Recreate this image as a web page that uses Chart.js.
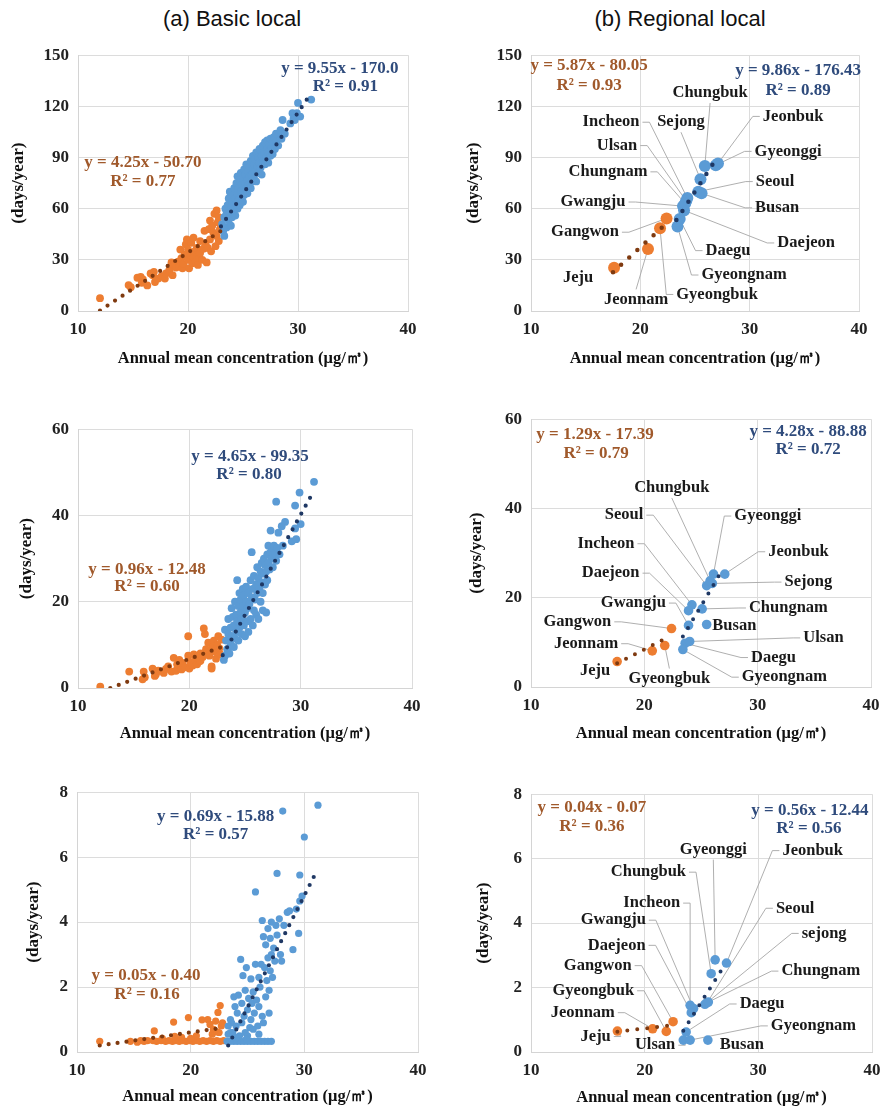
<!DOCTYPE html>
<html>
<head>
<meta charset="utf-8">
<script src="https://cdn.jsdelivr.net/npm/chart.js@4.4.0/dist/chart.umd.min.js"></script>
<style>
body { margin: 0; background: #fff; width: 891px; height: 1116px; position: relative; overflow: hidden; }
canvas { position: absolute; }
.head { position: absolute; top: 6px; line-height: 26px; font: 22px "Liberation Sans", Arial, sans-serif; color: #111; transform: translateX(-50%); white-space: nowrap; }
</style>
</head>
<body>
<div class="head" style="left:232px">(a) Basic local</div>
<div class="head" style="left:680px">(b) Regional local</div>
<canvas id="c1"></canvas>
<canvas id="c2"></canvas>
<canvas id="c3"></canvas>
<canvas id="c4"></canvas>
<canvas id="c5"></canvas>
<canvas id="c6"></canvas>
<script>
// ================================
// DATA
// ================================
const X_TITLE = 'Annual mean concentration (μg/㎥)';
const Y_TITLE = '(days/year)';

// (a) basic local, top row
const p1Orange = [[12.0,7.5],[14.6,15.2],[14.8,14.0],[15.4,19.5],[15.7,20.0],[15.8,16.5],[15.9,18.5],[16.3,15.0],[16.6,22.0],[16.8,21.0],[16.9,23.0],[17.0,17.0],[17.3,19.0],[17.6,20.5],[17.9,19.0],[18.0,22.0],[18.3,24.0],[18.5,28.5],[18.6,21.0],[18.7,27.0],[18.9,25.5],[19.1,29.0],[19.2,26.0],[19.3,36.0],[19.4,31.0],[19.5,25.0],[19.6,27.5],[19.7,33.0],[19.8,39.0],[19.9,42.0],[20.0,36.0],[20.0,30.0],[20.1,25.0],[20.2,33.0],[20.3,40.0],[20.4,28.0],[20.5,31.5],[20.5,43.0],[20.6,35.0],[20.7,29.0],[20.8,37.0],[20.9,27.0],[21.0,32.0],[21.1,34.0],[21.1,41.0],[21.3,30.0],[21.4,36.5],[21.5,47.0],[21.6,39.0],[21.7,28.5],[21.8,37.0],[21.9,48.0],[22.0,42.0],[22.0,53.0],[22.1,35.0],[22.2,50.0],[22.3,46.0],[22.4,57.0],[22.5,38.0],[22.6,59.0],[22.6,44.0],[22.7,52.0],[22.8,55.0],[22.8,41.0],[22.9,48.0]];
const p1Blue = [[23.1,51],[23.2,47],[23.3,44],[23.3,55],[23.4,60],[23.5,49],[23.5,57],[23.6,62],[23.7,53],[23.7,66],[23.8,58],[23.8,70],[23.9,61],[23.9,50],[24.0,64],[24.0,55],[24.1,68],[24.1,59],[24.2,72],[24.2,62],[24.3,66],[24.3,56],[24.4,75],[24.4,63],[24.5,69],[24.5,60],[24.5,79],[24.6,65],[24.6,72],[24.7,77],[24.7,62],[24.8,70],[24.8,81],[24.9,67],[24.9,74],[25.0,64],[25.0,78],[25.0,71],[25.1,83],[25.1,68],[25.2,75],[25.2,80],[25.3,72],[25.3,86],[25.4,77],[25.4,69],[25.5,82],[25.5,74],[25.6,79],[25.6,85],[25.7,72],[25.7,88],[25.8,80],[25.8,76],[25.9,84],[25.9,91],[26.0,78],[26.0,86],[26.1,82],[26.1,89],[26.2,93],[26.2,76],[26.3,85],[26.4,90],[26.4,81],[26.5,87],[26.5,95],[26.6,84],[26.7,91],[26.7,80],[26.8,97],[26.8,88],[26.9,93],[27.0,86],[27.0,99],[27.1,90],[27.2,95],[27.2,100],[27.3,87],[27.3,93],[27.4,98],[27.5,91],[27.5,101],[27.6,96],[27.7,99],[27.7,92],[27.8,102],[27.9,95],[28.0,99],[28.0,104],[28.2,97],[28.3,103],[28.4,106],[28.5,101],[28.6,112],[28.8,104],[29.3,110],[29.5,116],[29.6,113],[29.7,112],[29.9,116],[30.0,122],[30.2,114],[31.2,124]];
const p1OrangeTrend = [[12.0,0.3],[23.0,47.0]];
const p1BlueTrend = [[23.0,49.6],[30.8,124.0]];

// (a) basic local, middle row
const p3Orange = [[12.0,0.3],[14.6,3.8],[15.8,2.0],[15.9,3.8],[16.0,2.5],[16.7,4.5],[16.9,2.8],[17.0,3.2],[17.2,4.0],[17.7,3.5],[17.9,4.4],[18.1,5.0],[18.4,3.8],[18.6,7.0],[18.8,4.0],[18.9,5.5],[19.1,6.5],[19.3,4.3],[19.4,5.8],[19.6,4.8],[19.9,12.0],[19.9,7.5],[20.0,4.5],[20.1,5.9],[20.3,5.2],[20.4,7.8],[20.5,6.5],[20.7,5.5],[20.8,7.0],[20.9,6.2],[21.0,8.0],[21.0,6.3],[21.2,7.2],[21.3,13.8],[21.4,12.5],[21.5,9.0],[21.6,8.2],[21.7,10.5],[21.8,7.5],[22.0,5.0],[22.0,4.5],[22.1,9.5],[22.2,11.0],[22.3,8.5],[22.4,6.8],[22.5,10.0],[22.6,12.0],[22.7,9.2],[22.8,7.8],[22.9,11.2]];
const p3Blue = [[23.1,6.5],[23.2,7.5],[23.2,13.5],[23.3,11],[23.4,9],[23.5,16],[23.5,12.5],[23.6,8],[23.7,14],[23.7,10.5],[23.8,18.5],[23.8,12],[23.9,16.5],[24.0,9.5],[24.0,14.5],[24.1,20],[24.1,11.5],[24.2,17],[24.2,13],[24.3,25],[24.3,15.5],[24.4,19],[24.4,11],[24.5,22],[24.5,14],[24.6,17.5],[24.6,20.5],[24.7,12.5],[24.7,16],[24.8,23],[24.8,19],[24.9,14.5],[24.9,21.5],[25.0,17.5],[25.0,12],[25.1,20],[25.1,23.5],[25.2,15.5],[25.2,18.5],[25.3,22],[25.3,13],[25.4,19.5],[25.5,25],[25.5,16],[25.6,21],[25.6,31.5],[25.7,14.5],[25.7,23],[25.8,18],[25.8,26],[25.9,20.5],[26.0,24],[26.0,17],[26.1,22],[26.1,28],[26.2,25.5],[26.2,16],[26.3,23],[26.4,27],[26.4,20],[26.5,29],[26.5,24.5],[26.6,22],[26.6,18],[26.7,26.5],[26.7,30],[26.8,24],[26.8,28.5],[26.9,17.5],[26.9,27],[27.0,31],[27.0,25],[27.1,29],[27.1,33],[27.2,27.5],[27.3,31.5],[27.3,36.5],[27.4,30],[27.5,32.5],[27.5,28],[27.6,33],[27.7,31],[27.8,29.5],[27.8,43.2],[27.9,32.5],[28.0,36],[28.1,31],[28.3,37.5],[28.4,33],[28.6,38.5],[29.2,34],[29.5,42.3],[29.5,37],[29.6,34.5],[29.9,45.3],[30.0,38],[31.2,47.8]];
const p3OrangeTrend = [[12.9,0.0],[23.0,9.6]];
const p3BlueTrend = [[23.0,7.6],[31.1,45.3]];

// (a) basic local, bottom row
const p5Orange = [[12.0,0.33],[14.7,0.33],[15.3,0.3],[15.6,0.35],[15.9,0.33],[16.2,0.35],[16.7,0.35],[17.0,0.33],[17.4,0.35],[17.8,0.33],[18.1,0.35],[18.4,0.33],[18.7,0.35],[19.0,0.33],[19.3,0.35],[19.6,0.33],[19.9,0.35],[20.2,0.33],[20.5,0.35],[20.8,0.33],[21.1,0.35],[21.4,0.33],[21.7,0.35],[22.0,0.33],[22.3,0.35],[22.6,0.33],[22.9,0.35],[16.8,0.65],[18.5,0.92],[18.6,0.48],[19.8,1.06],[19.2,0.45],[20.5,0.5],[21.0,0.99],[21.5,1.0],[21.7,0.85],[21.9,0.55],[22.0,0.7],[22.2,0.95],[22.3,0.62],[22.4,1.22],[22.5,0.6],[22.6,1.43],[22.7,0.8],[22.8,0.9],[17.5,0.42],[20.0,0.42]];
const p5Blue = [[23.2,0.33],[23.5,0.33],[23.8,0.33],[24.1,0.33],[24.4,0.33],[24.7,0.33],[25.0,0.33],[25.3,0.33],[25.6,0.33],[25.9,0.33],[26.2,0.33],[26.5,0.33],[26.8,0.33],[27.1,0.33],[23.3,0.55],[23.3,0.8],[23.5,0.6],[23.6,0.9],[23.5,1.0],[23.7,0.6],[23.9,1.4],[24.0,0.8],[24.1,1.2],[24.2,1.75],[24.3,0.5],[24.4,2.85],[24.5,1.5],[24.5,0.9],[24.6,2.35],[24.7,1.1],[24.8,1.9],[24.8,0.6],[24.9,2.6],[25.0,1.3],[25.1,1.65],[25.2,0.75],[25.3,2.25],[25.3,1.0],[25.4,1.5],[25.5,1.85],[25.6,1.2],[25.7,4.93],[25.7,2.7],[25.8,1.6],[25.9,0.8],[26.0,2.3],[26.0,1.4],[26.1,2.0],[26.2,2.7],[26.3,4.05],[26.3,1.1],[26.4,3.55],[26.5,2.6],[26.6,1.7],[26.6,3.3],[26.7,2.2],[26.8,3.8],[26.8,2.9],[26.9,1.9],[27.0,3.5],[27.0,2.5],[27.1,3.0],[27.1,4.0],[27.2,2.3],[27.3,3.2],[27.4,2.8],[27.5,3.9],[27.6,5.5],[27.6,3.6],[27.8,4.1],[27.9,3.0],[28.0,2.8],[28.1,7.42],[28.2,3.9],[28.5,4.3],[28.7,4.35],[29.0,3.15],[29.3,4.4],[29.5,3.65],[29.6,4.65],[29.6,5.45],[29.8,4.8],[30.0,6.62],[31.2,7.6],[25.0,0.5],[24.0,0.45],[26.0,0.55],[23.8,1.7],[24.9,0.4],[25.5,0.7],[26.4,0.9],[26.9,1.2]];
const p5OrangeTrend = [[12.0,0.2],[22.7,0.74]];
const p5BlueTrend = [[23.3,0.2],[30.9,5.44]];

// (b) regional local
const REGIONS = ['Seoul','Busan','Daegu','Incheon','Gwangju','Daejeon','Ulsan','Sejong','Gyeonggi','Gangwon','Chungbuk','Chungnam','Jeonbuk','Jeonnam','Gyeongbuk','Gyeongnam','Jeju'];
const ORANGE_REGIONS = ['Gangwon','Jeonnam','Gyeongbuk','Jeju'];

const p2X = [25.3,25.6,23.6,24.3,23.9,24.0,24.2,25.5,26.9,22.4,25.9,24.1,27.1,20.7,21.8,23.4,17.6];
const p2Y = [70.0,69.0,54.0,66.2,61.5,59.0,64.5,77.3,85.5,54.3,85.0,63.0,86.5,36.4,48.5,49.5,25.3];
const p2OrangeTrend = [[17.5,22.7],[22.0,49.1]];
const p2BlueTrend = [[23.3,53.3],[27.1,90.8]];

const p4X = [25.5,25.5,23.6,24.2,23.9,23.9,24.0,26.0,26.1,22.4,25.8,25.1,27.1,20.7,21.8,23.4,17.6];
const p4Y = [22.7,14.0,9.8,18.4,13.8,17.1,10.2,23.2,25.3,13.1,23.8,17.5,25.3,8.1,9.3,8.4,5.7];
const p4OrangeTrend = [[17.6,5.3],[21.9,10.9]];
const p4BlueTrend = [[23.4,11.3],[27.0,26.7]];

const p6X = [25.5,25.56,23.65,24.0,24.3,24.1,23.4,25.3,26.2,22.5,25.85,25.6,27.2,20.7,21.9,24.0,17.6];
const p6Y = [1.53,0.37,0.62,1.45,1.35,1.22,0.37,1.48,2.86,0.94,2.43,1.55,2.76,0.72,0.64,0.37,0.65];
const p6OrangeTrend = [[17.6,0.63],[22.4,0.83]];
const p6BlueTrend = [[23.4,0.66],[26.8,2.57]];

// ================================
// STYLE
// ================================
const BLUE = '#5B9BD5';
const ORANGE = '#ED7D31';
const NAVY = '#1F3864';
const BROWN = '#7F3A10';
const EQ_BLUE = '#2F4B7C';
const EQ_ORANGE = '#A0592B';
const SERIF = '"Liberation Serif", "Times New Roman", serif';
const EQ_FONT = 'bold 17px ' + SERIF;
const LABEL_FONT = 'bold 16.5px ' + SERIF;

// canvas boxes, page pixels
const BOXES = {
    c1: { left: 4,   top: 36,  w: 424, h: 337, yW: 74, xH: 62, padT: 12, padR: 20 },
    c2: { left: 459, top: 36,  w: 420, h: 337, yW: 72, xH: 62, padT: 12, padR: 20 },
    c3: { left: 12,  top: 410, w: 420, h: 338, yW: 66, xH: 60, padT: 12, padR: 20 },
    c4: { left: 462, top: 400, w: 427, h: 348, yW: 69, xH: 61, padT: 12, padR: 18 },
    c5: { left: 19,  top: 773, w: 419, h: 338, yW: 58, xH: 59, padT: 12, padR: 20 },
    c6: { left: 469, top: 775, w: 421, h: 337, yW: 62, xH: 60, padT: 12, padR: 18 }
};

// annotation placement, in data units
const ANNO = {
    c1: { texts: [
        ['y = 9.55x - 170.0', 33.8, 142, EQ_BLUE], ['R² = 0.91', 34.3, 131.8, EQ_BLUE],
        ['y = 4.25x - 50.70', 15.9, 87.3, EQ_ORANGE], ['R² = 0.77', 15.9, 75.9, EQ_ORANGE]] },
    c3: { texts: [
        ['y = 4.65x - 99.35', 25.45, 53.7, EQ_BLUE], ['R² = 0.80', 25.36, 49.4, EQ_BLUE],
        ['y = 0.96x - 12.48', 16.2, 27.5, EQ_ORANGE], ['R² = 0.60', 16.2, 23.5, EQ_ORANGE]] },
    c5: { texts: [
        ['y = 0.69x - 15.88', 22.2, 7.25, EQ_BLUE], ['R² = 0.57', 22.2, 6.7, EQ_BLUE],
        ['y = 0.05x - 0.40', 16.07, 2.34, EQ_ORANGE], ['R² = 0.16', 16.16, 1.77, EQ_ORANGE]] },
    c2: { xs: p2X, ys: p2Y, texts: [
        ['y = 5.87x - 80.05', 15.31, 143.8, EQ_ORANGE], ['R² = 0.93', 15.31, 132.3, EQ_ORANGE],
        ['y = 9.86x - 176.43', 34.43, 140.9, EQ_BLUE], ['R² = 0.89', 34.43, 129.5, EQ_BLUE]],
      labels: [
        ['Chungbuk', 'Chungbuk', 26.38, 127.8, 'b'], ['Incheon', 'Incheon', 17.32, 110.7, 'r'],
        ['Sejong', 'Sejong', 23.72, 110.7, 'b'], ['Jeonbuk', 'Jeonbuk', 33.97, 114.1, 'l'],
        ['Ulsan', 'Ulsan', 17.87, 97.0, 'r'], ['Gyeonggi', 'Gyeonggi', 33.51, 93.6, 'l'],
        ['Chungnam', 'Chungnam', 17.04, 81.6, 'r'], ['Seoul', 'Seoul', 32.32, 75.9, 'l'],
        ['Gwangju', 'Gwangju', 15.67, 63.9, 'r'], ['Busan', 'Busan', 32.51, 60.5, 'l'],
        ['Gangwon', 'Gangwon', 14.94, 46.2, 'r'], ['Daejeon', 'Daejeon', 35.16, 39.9, 'l'],
        ['Daegu', 'Daegu', 28.02, 35.4, 'l'], ['Jeju', 'Jeju', 14.30, 19.4, 'n'],
        ['Gyeongnam', 'Gyeongnam', 29.49, 21.1, 'l'], ['Jeonnam', 'Jeonnam', 19.61, 6.8, 't'],
        ['Gyeongbuk', 'Gyeongbuk', 27.02, 9.7, 'l']] },
    c4: { xs: p4X, ys: p4Y, texts: [
        ['y = 1.29x - 17.39', 15.65, 56.5, EQ_ORANGE], ['R² = 0.79', 15.74, 52.4, EQ_ORANGE],
        ['y = 4.28x - 88.88', 34.45, 57.2, EQ_BLUE], ['R² = 0.72', 34.45, 53.2, EQ_BLUE]],
      labels: [
        ['Chungbuk', 'Chungbuk', 22.42, 44.6, 'b'], ['Seoul', 'Seoul', 18.21, 38.5, 'r'],
        ['Gyeonggi', 'Gyeonggi', 30.89, 38.3, 'l'], ['Incheon', 'Incheon', 16.62, 32.1, 'r'],
        ['Jeonbuk', 'Jeonbuk', 33.6, 30.3, 'l'], ['Daejeon', 'Daejeon', 17.03, 25.5, 'r'],
        ['Sejong', 'Sejong', 34.47, 23.5, 'l'], ['Gwangju', 'Gwangju', 19.03, 18.8, 'r'],
        ['Chungnam', 'Chungnam', 32.71, 17.7, 'l'], ['Gangwon', 'Gangwon', 14.09, 14.6, 'r'],
        ['Busan', 'Busan', 27.94, 13.7, 'n'], ['Jeonnam', 'Jeonnam', 14.86, 9.7, 'r'],
        ['Ulsan', 'Ulsan', 35.8, 11.0, 'l'], ['Daegu', 'Daegu', 31.39, 6.6, 'l'],
        ['Jeju', 'Jeju', 15.65, 3.7, 'n'], ['Gyeongbuk', 'Gyeongbuk', 22.21, 1.9, 't'],
        ['Gyeongnam', 'Gyeongnam', 32.36, 2.2, 'l']] },
    c6: { xs: p6X, ys: p6Y, texts: [
        ['y = 0.04x - 0.07', 15.36, 7.58, EQ_ORANGE], ['R² = 0.36', 15.36, 7.0, EQ_ORANGE],
        ['y = 0.56x - 12.44', 34.54, 7.49, EQ_BLUE], ['R² = 0.56', 34.45, 6.92, EQ_BLUE]],
      labels: [
        ['Gyeonggi', 'Gyeonggi', 26.04, 6.28, 'b'], ['Jeonbuk', 'Jeonbuk', 34.78, 6.25, 'l'],
        ['Chungbuk', 'Chungbuk', 20.33, 5.58, 'r'], ['Incheon', 'Incheon', 20.62, 4.62, 'r'],
        ['Seoul', 'Seoul', 33.24, 4.46, 'l'], ['Gwangju', 'Gwangju', 17.24, 4.09, 'r'],
        ['Sejong', 'sejong', 35.79, 3.68, 'l'], ['Daejeon', 'Daejeon', 17.54, 3.31, 'r'],
        ['Gangwon', 'Gangwon', 15.87, 2.68, 'r'], ['Chungnam', 'Chungnam', 35.5, 2.51, 'l'],
        ['Gyeongbuk', 'Gyeongbuk', 15.48, 1.90, 'r'], ['Daegu', 'Daegu', 30.33, 1.49, 'l'],
        ['Jeonnam', 'Jeonnam', 14.55, 1.22, 'r'], ['Gyeongnam', 'Gyeongnam', 34.85, 0.81, 'l'],
        ['Jeju', 'Jeju', 15.69, 0.48, 'r'], ['Ulsan', 'Ulsan', 20.92, 0.21, 'r'],
        ['Busan', 'Busan', 28.55, 0.21, 'n']] }
};

// ================================
// PLUGIN: equations, region labels, leader lines
// ================================
const annoPlugin = {
    id: 'anno',
    beforeDatasetsDraw(chart) {
        const a = ANNO[chart.canvas.id];
        if (!a || !a.labels) return;
        const { ctx, scales: { x, y } } = chart;
        ctx.save();
        ctx.font = LABEL_FONT;
        ctx.strokeStyle = '#a6a6a6';
        ctx.lineWidth = 0.9;
        a.labels.forEach(([key, text, lx, ly, side]) => {
            if (side === 'n') return;
            const i = REGIONS.indexOf(key);
            const tx = x.getPixelForValue(a.xs[i]);
            const ty = y.getPixelForValue(a.ys[i]);
            const cx = x.getPixelForValue(lx);
            const cy = y.getPixelForValue(ly);
            const w = ctx.measureText(text).width;
            let sx = cx, sy = cy, kx = cx, ky = cy;
            if (side === 'r') { sx = cx + w / 2 + 3; kx = sx + 7; }
            else if (side === 'l') { sx = cx - w / 2 - 3; kx = sx - 7; }
            else if (side === 'b') { sy = ky = cy + 10; }
            else { sy = ky = cy - 10; }
            ctx.beginPath();
            ctx.moveTo(sx, sy);
            ctx.lineTo(kx, ky);
            ctx.lineTo(tx, ty);
            ctx.stroke();
        });
        ctx.restore();
    },
    afterDatasetsDraw(chart) {
        const a = ANNO[chart.canvas.id];
        if (!a) return;
        const { ctx, scales: { x, y } } = chart;
        ctx.save();
        ctx.textAlign = 'center';
        ctx.textBaseline = 'middle';
        ctx.font = EQ_FONT;
        a.texts.forEach(([text, tx, ty, color]) => {
            ctx.fillStyle = color;
            ctx.fillText(text, x.getPixelForValue(tx), y.getPixelForValue(ty));
        });
        if (a.labels) {
            ctx.font = LABEL_FONT;
            ctx.fillStyle = '#1a1a1a';
            a.labels.forEach(([key, text, lx, ly]) => {
                ctx.fillText(text, x.getPixelForValue(lx), y.getPixelForValue(ly));
            });
        }
        ctx.restore();
    }
};

// ================================
// HELPERS
// ================================
const toXY = arr => arr.map(([x, y]) => ({ x, y }));

function pointSet(pairs, color, r) {
    return { data: toXY(pairs), backgroundColor: color, borderWidth: 0, pointRadius: r, order: 2 };
}

function trendSet(pairs, color, w, gap) {
    return {
        data: toXY(pairs), showLine: true, pointRadius: 0, borderColor: color,
        borderWidth: w, borderDash: [0, gap], borderCapStyle: 'round', fill: false, order: 0
    };
}

function regionSets(xs, ys, r) {
    const blue = [], orange = [];
    REGIONS.forEach((name, i) => {
        (ORANGE_REGIONS.includes(name) ? orange : blue).push([xs[i], ys[i]]);
    });
    return [pointSet(blue, BLUE, r), pointSet(orange, ORANGE, r)];
}

function makePanel(id, yMax, yStep, datasets) {
    const box = BOXES[id];
    const cv = document.getElementById(id);
    cv.width = box.w;
    cv.height = box.h;
    cv.style.left = box.left + 'px';
    cv.style.top = box.top + 'px';

    const tickFont = { family: SERIF, size: 17, weight: 'bold' };
    const titleFont = { family: SERIF, size: 16.5, weight: 'bold' };

    return new Chart(cv, {
        type: 'scatter',
        data: { datasets },
        options: {
            responsive: false,
            animation: false,
            events: [],
            layout: { padding: { top: box.padT, right: box.padR, left: 0, bottom: 0 } },
            plugins: { legend: { display: false }, tooltip: { enabled: false } },
            scales: {
                x: {
                    type: 'linear', min: 10, max: 40,
                    ticks: { stepSize: 10, padding: 8, color: '#222', font: tickFont },
                    grid: { color: '#dcdcdc', drawTicks: false },
                    border: { color: '#d4d4d4' },
                    title: { display: true, text: X_TITLE, color: '#111', font: titleFont, padding: { top: 0, bottom: 4 } },
                    afterFit: s => { s.height = box.xH; }
                },
                y: {
                    type: 'linear', min: 0, max: yMax,
                    ticks: { stepSize: yStep, padding: 9, color: '#222', font: tickFont },
                    grid: { color: '#dcdcdc', drawTicks: false },
                    border: { color: '#d4d4d4' },
                    title: { display: true, text: Y_TITLE, color: '#111', font: { family: SERIF, size: 17, weight: 'bold' }, padding: { top: 4, bottom: 0 } },
                    afterFit: s => { s.width = box.yW; }
                }
            }
        },
        plugins: [annoPlugin]
    });
}

// ================================
// INIT
// ================================
makePanel('c1', 150, 30, [
    trendSet(p1BlueTrend, NAVY, 4.2, 9), trendSet(p1OrangeTrend, BROWN, 4.2, 9),
    pointSet(p1Blue, BLUE, 3.9), pointSet(p1Orange, ORANGE, 3.9)
]);
makePanel('c3', 60, 20, [
    trendSet(p3BlueTrend, NAVY, 4.2, 9), trendSet(p3OrangeTrend, BROWN, 4.2, 9),
    pointSet(p3Blue, BLUE, 3.9), pointSet(p3Orange, ORANGE, 3.9)
]);
makePanel('c5', 8, 2, [
    trendSet(p5BlueTrend, NAVY, 4.2, 9), trendSet(p5OrangeTrend, BROWN, 4.2, 9),
    pointSet(p5Blue, BLUE, 3.6), pointSet(p5Orange, ORANGE, 3.6)
]);
makePanel('c2', 150, 30, [
    trendSet(p2BlueTrend, NAVY, 4.5, 11), trendSet(p2OrangeTrend, BROWN, 4.5, 11),
    ...regionSets(p2X, p2Y, 6)
]);
makePanel('c4', 60, 20, [
    trendSet(p4BlueTrend, NAVY, 4, 10), trendSet(p4OrangeTrend, BROWN, 4, 10),
    ...regionSets(p4X, p4Y, 4.8)
]);
makePanel('c6', 8, 2, [
    trendSet(p6BlueTrend, NAVY, 4, 10), trendSet(p6OrangeTrend, BROWN, 4, 10),
    ...regionSets(p6X, p6Y, 4.8)
]);
</script>
</body>
</html>
